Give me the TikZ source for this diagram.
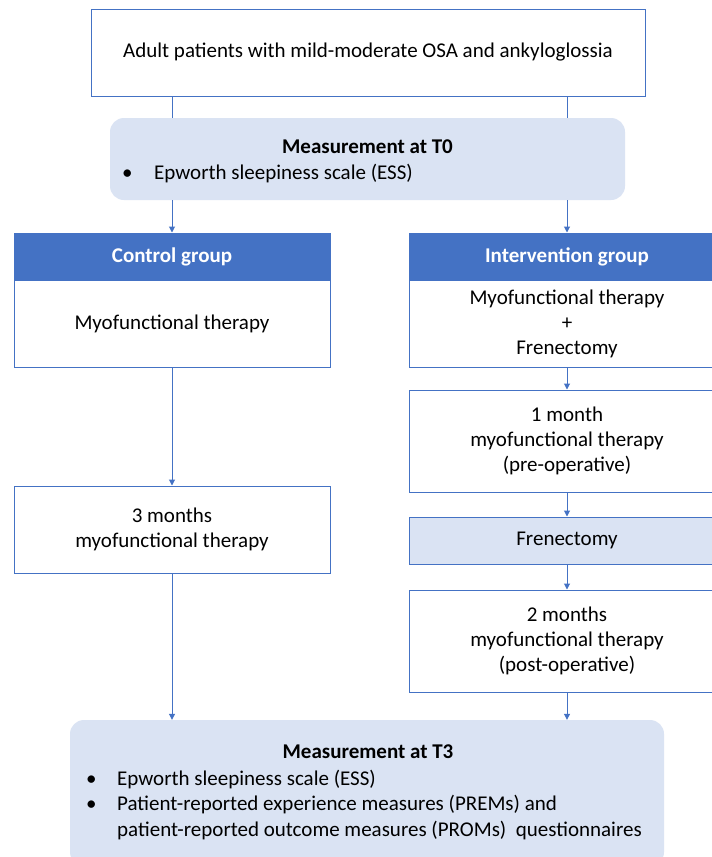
\documentclass[tikz,border=0pt]{standalone}
\usepackage{fontspec}
\setmainfont{Carlito}
\usetikzlibrary{arrows.meta}
\definecolor{dblue}{HTML}{4472C4}
\definecolor{lblue}{HTML}{DAE3F3}
\newcommand{\fsz}{\fontsize{21}{25}\selectfont}
\tikzset{
  wbox/.style={draw=dblue, line width=1pt, fill=white, minimum width=316pt, inner sep=0pt, align=center},
  head/.style={draw=dblue, line width=1pt, fill=dblue, text=white, font=\fsz\bfseries, minimum width=316pt, minimum height=47pt, inner sep=0pt},
  meas/.style={fill=lblue, rounded corners=14pt, inner sep=0pt},
  txt/.style={inner sep=0pt, anchor=base west},
  conn/.style={draw=dblue, line width=1pt},
  arr/.style={conn, -{Triangle[length=6pt,width=6pt]}},
}
\begin{document}
\begin{tikzpicture}[x=1pt,y=-1pt, every node/.append style={font=\fsz}]
\useasboundingbox (0,0) rectangle (712,857);
\fill[white] (0,0) rectangle (712,857);
% top
\node[wbox, minimum width=554pt, minimum height=87pt] (top) at (368,52.5) {Adult patients with mild-moderate OSA and ankyloglossia};
% T0
\node[meas, minimum width=515pt, minimum height=82pt] (t0) at (367.5,159) {};
\node[inner sep=0pt, font=\fsz\bfseries] (t0title) at (367.5,147) {Measurement at T0};
\node[txt] (t0bul) at (122,179) {\textbullet};
\node[txt] (t0b1) at (154,179) {Epworth sleepiness scale (ESS)};
% control
\node[head] (ch) at (172,256.5) {Control group};
\node[wbox, minimum height=87pt] (cb) at (172,323.5) {Myofunctional therapy};
\node[wbox, minimum height=87pt] (c3) at (172,529.5) {3 months\\myofunctional therapy};
% intervention
\node[head] (ih) at (567,256.5) {Intervention group};
\node[wbox, minimum height=87pt] (ib) at (567,324) {Myofunctional therapy\\+\\Frenectomy};
\node[wbox, minimum height=102pt] (i1) at (567,441) {1 month\\myofunctional therapy\\(pre-operative)};
\node[wbox, fill=lblue, minimum height=47pt] (ifr) at (567,540.5) {Frenectomy};
\node[wbox, minimum height=102pt] (i2) at (567,641) {2 months\\myofunctional therapy\\(post-operative)};
% T3
\node[meas, minimum width=594pt, minimum height=146pt] (t3) at (367,793) {};
\node[inner sep=0pt, font=\fsz\bfseries] (t3title) at (368,752) {Measurement at T3};
\node[txt] (t3bul1) at (86,785) {\textbullet};
\node[txt] (t3b1) at (117,785) {Epworth sleepiness scale (ESS)};
\node[txt] (t3bul2) at (86,810) {\textbullet};
\node[txt] (t3b2) at (117,810) {Patient-reported experience measures (PREMs) and};
\node[txt] (t3b3) at (117,836) {patient-reported outcome measures (PROMs)\ \ questionnaires};
% connectors
\draw[conn] (top.south -| ch) -- (t0.north -| ch);
\draw[conn] (top.south -| ih) -- (t0.north -| ih);
\draw[arr] (t0.south -| ch) -- (ch.north);
\draw[arr] (t0.south -| ih) -- (ih.north);
\draw[arr] (cb) -- (c3);
\draw[arr] (c3.south) -- (t3.north -| c3);
\draw[arr] (ib) -- (i1);
\draw[arr] (i1) -- (ifr);
\draw[arr] (ifr) -- (i2);
\draw[arr] (i2.south) -- (t3.north -| i2);
\end{tikzpicture}
\end{document}
